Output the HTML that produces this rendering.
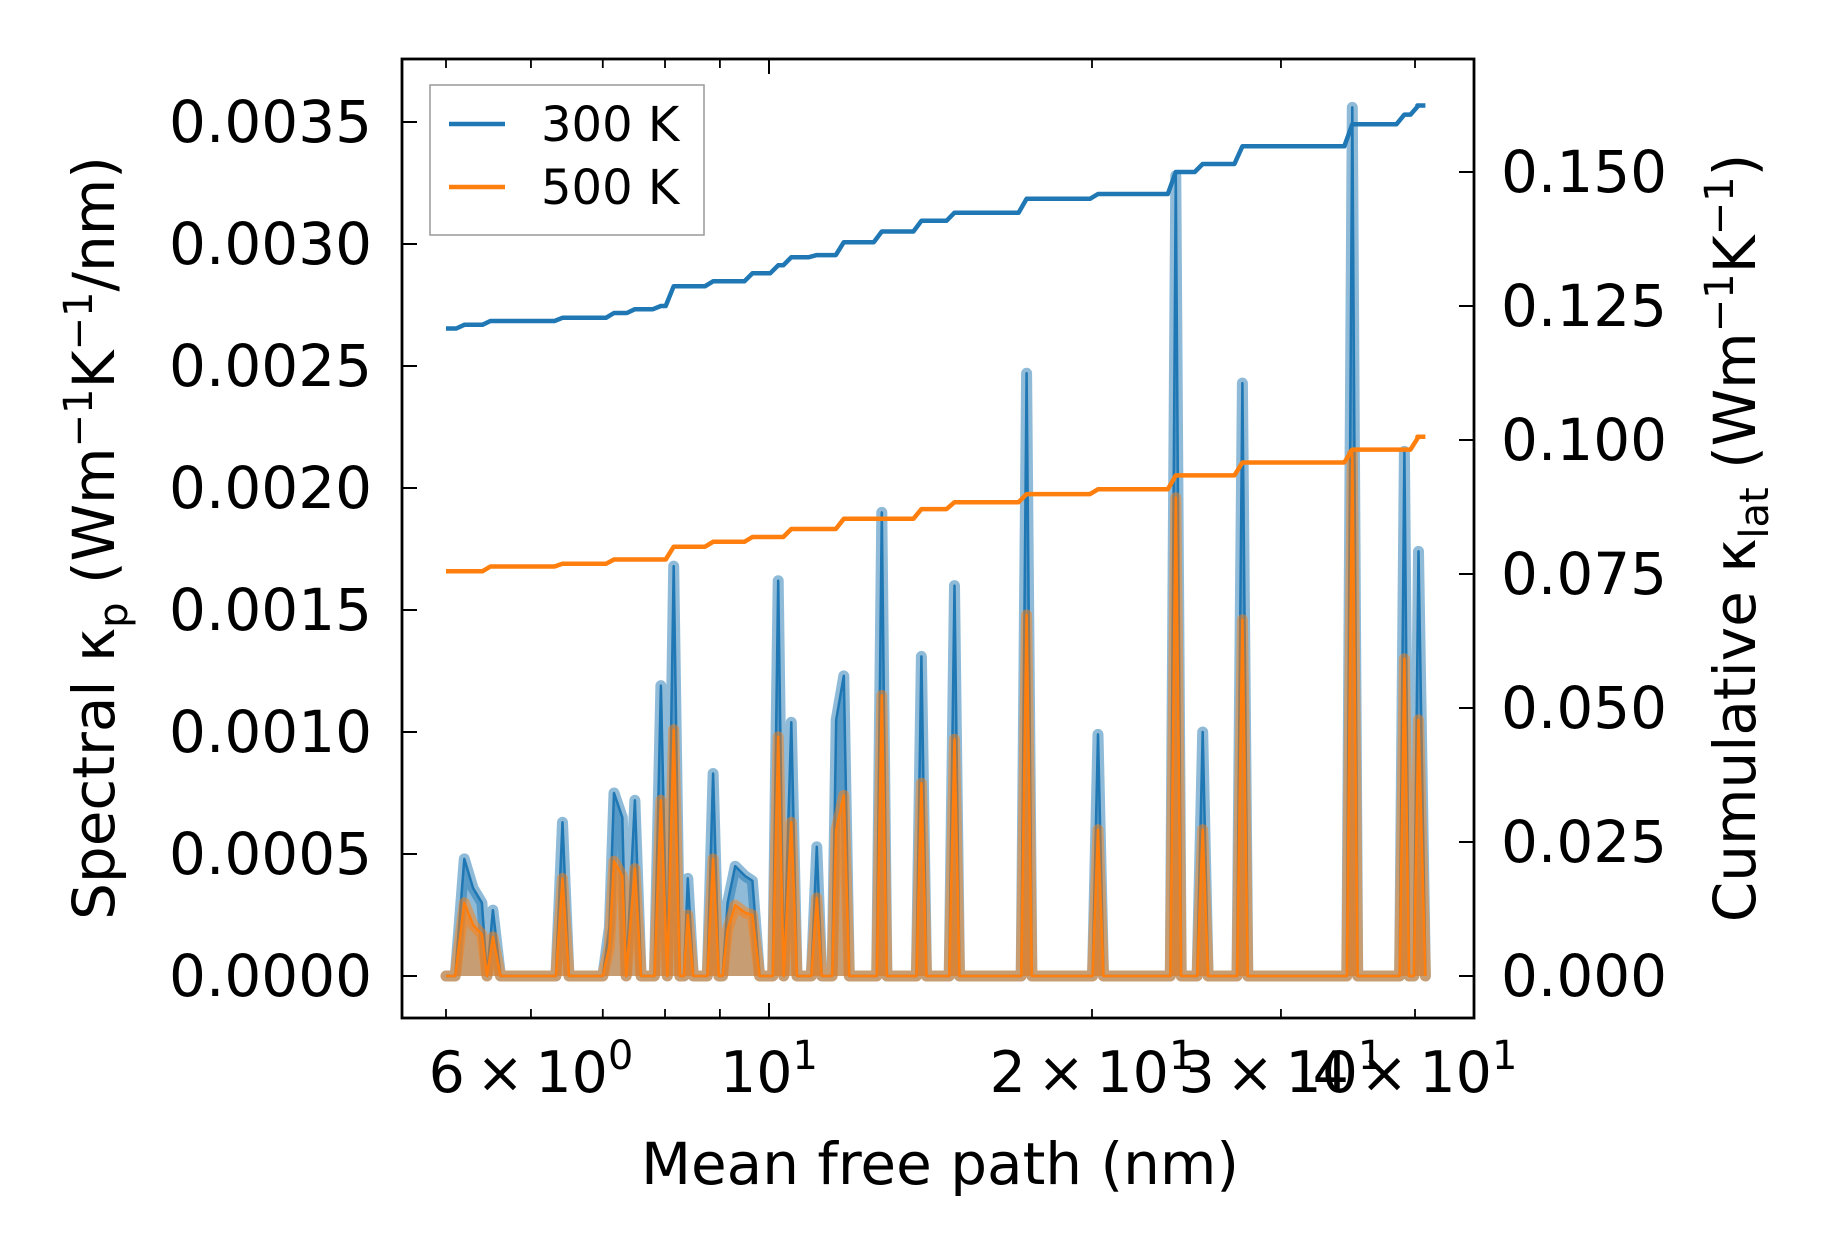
<!DOCTYPE html>
<html><head><meta charset="utf-8"><style>
html,body{margin:0;padding:0;background:#fff;}
svg{display:block;font-family:"DejaVu Sans","Liberation Sans",sans-serif;}
</style></head><body>
<svg id="chart" width="1827" height="1253" viewBox="0 0 1827 1253" xmlns="http://www.w3.org/2000/svg">
<rect x="0" y="0" width="1827" height="1253" fill="#fff"/>
<g id="plot"></g>
<g id="axes"></g>
</svg>
<script>
// ---- data ----
const mfp = [5.0,5.10,5.20,5.30,5.40,5.46,5.53,5.62,6.33,6.42,6.51,7.0,7.10,7.17,7.30,7.36,7.50,7.60,7.82,7.93,8.04,8.15,8.26,8.33,8.40,8.50,8.76,8.87,8.98,9.05,9.15,9.30,9.50,9.65,9.80,10.08,10.20,10.32,10.49,10.62,10.95,11.08,11.20,11.45,11.55,11.74,11.88,12.60,12.74,12.88,13.72,13.87,14.02,14.72,14.89,15.05,17.18,17.38,17.58,20.02,20.26,20.50,23.66,23.94,24.22,25.06,25.36,25.66,27.30,27.62,27.94,34.55,34.96,35.37,38.7,39.1,39.5,39.9,40.3,40.9];
const spectral300 = [0,0,0.00048,0.00036,0.00030,0,0.00027,0,0,0.00063,0,0,0.00020,0.00075,0.00065,0,0.00072,0,0,0.00119,0,0.00168,0,0,0.00040,0,0,0.00083,0,0,0.00030,0.00045,0.00041,0.00039,0,0,0.00162,0,0.00104,0,0,0.00053,0,0,0.00105,0.00123,0,0,0.00190,0,0,0.00131,0,0,0.00160,0,0,0.00247,0,0,0.00099,0,0,0.00328,0,0,0.00100,0,0,0.00243,0,0,0.00356,0,0,0.00215,0,0,0.00174,0];
const spectral500 = [0,0,0.00030,0.00021,0.00017,0,0.00016,0,0,0.00040,0,0,0.00012,0.00047,0.00041,0,0.00044,0,0,0.00072,0,0.00101,0,0,0.00025,0,0,0.00048,0,0,0.00019,0.00029,0.00026,0.00025,0,0,0.00098,0,0.00063,0,0,0.00032,0,0,0.00060,0.00074,0,0,0.00115,0,0,0.00079,0,0,0.00097,0,0,0.00148,0,0,0.00060,0,0,0.00196,0,0,0.00060,0,0,0.00146,0,0,0.00214,0,0,0.00130,0,0,0.00105,0];
const cumMfp300 = [5.0,5.20,5.50,6.42,7.17,7.50,7.93,8.15,8.87,9.65,10.20,10.49,11.08,11.74,12.74,13.87,14.89,17.38,20.26,23.94,25.36,27.62,34.96,39.1,40.3,40.9];
const cum300 = [0.1208,0.1215,0.1222,0.1228,0.1237,0.1244,0.1250,0.1287,0.1296,0.1311,0.1326,0.1341,0.1345,0.1369,0.1389,0.1409,0.1424,0.1450,0.1459,0.1500,0.1515,0.1548,0.1589,0.1607,0.1624,0.1624];
const cumMfp500 = [5.0,5.50,6.42,7.17,8.15,8.87,9.65,10.49,11.74,13.87,14.89,17.38,20.26,23.94,27.62,34.96,40.3,40.9];
const cum500 = [0.0755,0.0764,0.0769,0.0777,0.0801,0.0810,0.0819,0.0834,0.0853,0.0871,0.0884,0.0899,0.0908,0.0934,0.0958,0.0982,0.1006,0.1006];
const leftTicks = [0,0.0005,0.0010,0.0015,0.0020,0.0025,0.0030,0.0035];
const leftTickLabels = ["0.0000","0.0005","0.0010","0.0015","0.0020","0.0025","0.0030","0.0035"];
const rightTicks = [0,0.025,0.05,0.075,0.1,0.125,0.15];
const rightTickLabels = ["0.000","0.025","0.050","0.075","0.100","0.125","0.150"];
const xMinorTicks = [5,6,7,8,9,20,30,40];
const xMajorTicks = [10];
const xLabelVals = [6,10,20,30,40];
const xLabelMant = ["6","","2","3","4"];
const xLabelExp = ["0","1","1","1","1"];

// ---- axes geometry ----
const L=402,R=1474,T=59,B=1018;
const xs = v => 769 + 1073*(Math.log10(v)-1);
const yl = v => 976 - v/0.0005*122;
const yr = v => 976 - v/0.025*134;
const NS="http://www.w3.org/2000/svg";
function mk(tag,attrs,parent){const e=document.createElementNS(NS,tag);for(const k in attrs)e.setAttribute(k,attrs[k]);parent.appendChild(e);return e;}
const plot=document.getElementById('plot'), axes=document.getElementById('axes');

function spectral(vals,color,name){
  let d=`M${xs(mfp[0])},${yl(0)}`;
  mfp.forEach((m,i)=>{d+=` L${xs(m).toFixed(1)},${yl(vals[i]).toFixed(1)}`;});
  const fill=mk('path',{d:d+` L${xs(mfp[mfp.length-1])},${yl(0)} Z`,fill:color,'fill-opacity':0.5,stroke:'none'},plot);
  
  
  const ld=d.replace(/^M[^L]*/,'M'+xs(mfp[0])+','+yl(vals[0]));
  const line=mk('path',{d:ld,fill:'none',stroke:color,'stroke-width':11,'stroke-opacity':0.5,'stroke-linejoin':'round','stroke-linecap':'round'},plot);
  
  
  const thin=mk('path',{d:ld,fill:'none',stroke:color,'stroke-width':2.5,'stroke-linejoin':'round'},plot);
  
  
}
spectral(spectral300,'#1f77b4','spectral-300k');
spectral(spectral500,'#ff7f0e','spectral-500k');

function cum(ms,vals,color,name){
  let d=`M${xs(ms[0]).toFixed(1)},${yr(vals[0]).toFixed(1)}`;
  for(let i=1;i<ms.length;i++){
    d+=` L${(xs(ms[i])-8).toFixed(1)},${yr(vals[i-1]).toFixed(1)} L${xs(ms[i]).toFixed(1)},${yr(vals[i]).toFixed(1)}`;
  }
  const p=mk('path',{d:d,fill:'none',stroke:color,'stroke-width':4.5,'stroke-linejoin':'round'},plot);
  
  
}
cum(cumMfp300,cum300,'#1f77b4','cumulative-300k');
cum(cumMfp500,cum500,'#ff7f0e','cumulative-500k');

const fr=mk('rect',{x:L,y:T,width:R-L,height:B-T,fill:'none',stroke:'#000','stroke-width':2.8},axes);


xMinorTicks.forEach(v=>{const x=xs(v);
  mk('line',{x1:x,y1:B,x2:x,y2:B-9,stroke:'#000','stroke-width':1.8},axes);
  mk('line',{x1:x,y1:T,x2:x,y2:T+9,stroke:'#000','stroke-width':1.8},axes);});
xMajorTicks.forEach(v=>{const x=xs(v);
  mk('line',{x1:x,y1:B,x2:x,y2:B-15,stroke:'#000','stroke-width':2},axes);
  mk('line',{x1:x,y1:T,x2:x,y2:T+15,stroke:'#000','stroke-width':2},axes);});
xLabelVals.forEach((v,i)=>{
  const t=mk('text',{x:xs(v),y:1092,'font-size':57,'text-anchor':'middle',fill:'#000'},axes);
  
  
  t.innerHTML=(xLabelMant[i]?xLabelMant[i]+'\u2009\u00d7\u200910':'10')+`<tspan font-size="40" dy="-23">${xLabelExp[i]}</tspan>`;
});
leftTicks.forEach((v,i)=>{const y=yl(v);
  mk('line',{x1:L,y1:y,x2:L+15,y2:y,stroke:'#000','stroke-width':2},axes);
  const t=mk('text',{x:372,y:y+20,'font-size':58,'text-anchor':'end',fill:'#000'},axes);
  
  
  t.textContent=leftTickLabels[i];});
rightTicks.forEach((v,i)=>{const y=yr(v);
  mk('line',{x1:R,y1:y,x2:R-15,y2:y,stroke:'#000','stroke-width':2},axes);
  const t=mk('text',{x:1501,y:y+20,'font-size':58,'text-anchor':'start',fill:'#000'},axes);
  
  
  t.textContent=rightTickLabels[i];});
</script>
<svg style="position:absolute;left:0;top:0" width="1827" height="1253">
<g font-family="DejaVu Sans, Liberation Sans, sans-serif" fill="#000">
<text x="940" y="1184" font-size="58" text-anchor="middle">Mean free path (nm)</text>
<text transform="translate(114,538) rotate(-90)" font-size="58" text-anchor="middle">Spectral κ<tspan font-size="40" dy="13">p</tspan><tspan dy="-13"> (Wm</tspan><tspan font-size="40" dy="-22">−1</tspan><tspan dy="22">K</tspan><tspan font-size="40" dy="-22">−1</tspan><tspan dy="22">/nm)</tspan></text>
<text transform="translate(1755,538) rotate(-90)" font-size="58" text-anchor="middle">Cumulative κ<tspan font-size="40" dy="13">lat</tspan><tspan dy="-13"> (Wm</tspan><tspan font-size="40" dy="-22">−1</tspan><tspan dy="22">K</tspan><tspan font-size="40" dy="-22">−1</tspan><tspan dy="22">)</tspan></text>
<g>
<rect x="430" y="85" width="274" height="150" fill="#fff" fill-opacity="0.8" stroke="#999" stroke-width="1.5"/>
<line x1="449" y1="124" x2="505" y2="124" stroke="#1f77b4" stroke-width="4.5"/>
<text x="541" y="141" font-size="48">300 K</text>
<line x1="449" y1="187" x2="505" y2="187" stroke="#ff7f0e" stroke-width="4.5"/>
<text x="541" y="204" font-size="48">500 K</text>
</g>
</g>
</svg>
</body></html>
